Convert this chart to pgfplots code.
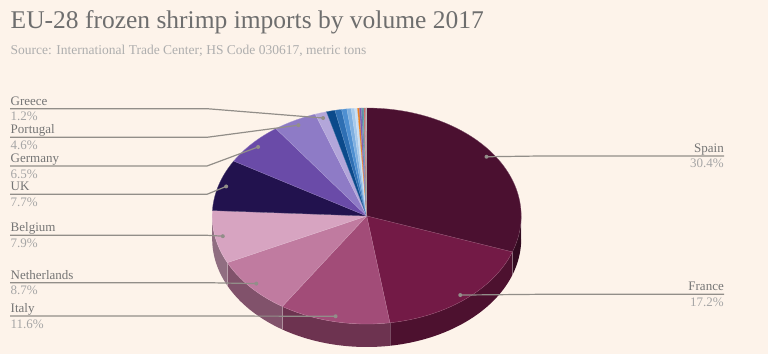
\documentclass[border=0pt]{standalone}
\usepackage{pgfplots}
\pgfplotsset{compat=1.18}
\usepackage{pgfplotstable}
\usepackage{fontspec}
\setmainfont{Liberation Serif}

\definecolor{bg}{HTML}{FDF3EA}
\definecolor{titlegray}{HTML}{6E6E6E}
\definecolor{subgray}{HTML}{AEAEAE}
\definecolor{namegray}{HTML}{757575}
\definecolor{pctgray}{HTML}{A6A6A6}
\definecolor{linegray}{HTML}{928E89}
\definecolor{cSpain}{HTML}{4B1030}
\definecolor{cFrance}{HTML}{731A46}
\definecolor{cItaly}{HTML}{A24C78}
\definecolor{cNeth}{HTML}{C07BA0}
\definecolor{cBel}{HTML}{D7A4C1}
\definecolor{cUK}{HTML}{22124E}
\definecolor{cGer}{HTML}{6A4BA8}
\definecolor{cPor}{HTML}{8E7BC6}
\definecolor{cGre}{HTML}{B3A6DA}
\definecolor{s1}{HTML}{0B4A8B}
\definecolor{s2}{HTML}{2E6FB3}
\definecolor{s3}{HTML}{4E8FD1}
\definecolor{s4}{HTML}{7EAFE0}
\definecolor{s5}{HTML}{A7CAEC}
\definecolor{s6}{HTML}{C9DEF2}
\definecolor{s7}{HTML}{E97E1F}
\definecolor{s8}{HTML}{7B5BB3}
\definecolor{s9}{HTML}{5C7FA8}
\definecolor{s10}{HTML}{48A19E}
\definecolor{s11}{HTML}{C0504D}
\definecolor{s12}{HTML}{D986B0}
\definecolor{s13}{HTML}{8C6A4E}
\definecolor{s14}{HTML}{9E9E9E}

% name, share (%), colour, leader bend x, leader y, side of label
\pgfplotstableread[col sep=comma]{
name,pct,col,lx,ly,side
Spain,30.4,cSpain,540,198,R
France,17.2,cFrance,540,59.7,R
Italy,11.6,cItaly,207,38,L
Netherlands,8.7,cNeth,207,71.3,L
Belgium,7.9,cBel,207,118.7,L
UK,7.7,cUK,207,159.7,L
Germany,6.5,cGer,207,188,L
Portugal,4.6,cPor,207,216.7,L
Greece,1.2,cGre,207,245.3,L
o1,0.9,s1,0,0,N
o2,0.7,s2,0,0,N
o3,0.55,s3,0,0,N
o4,0.45,s4,0,0,N
o5,0.35,s5,0,0,N
o6,0.3,s6,0,0,N
o7,0.2,s7,0,0,N
o8,0.2,s8,0,0,N
o9,0.15,s9,0,0,N
o10,0.12,s10,0,0,N
o11,0.1,s11,0,0,N
o12,0.08,s12,0,0,N
o13,0.06,s13,0,0,N
o14,0.04,s14,0,0,N
}\pie

\newcommand\piecx{366.7}
\newcommand\piecy{138}
\newcommand\pierx{154.5}
\newcommand\piery{108}
\newcommand\pieth{23}

\begin{document}
\begin{tikzpicture}
\begin{axis}[
  x=1pt, y=1pt,
  xmin=0, xmax=768, ymin=0, ymax=354,
  hide axis,
  clip=false,
]
\pgfplotsextra{
  \fill[bg] (axis cs:0,0) rectangle (axis cs:768,354);
  \node[anchor=base west, inner sep=0pt, text=titlegray,
        font=\fontsize{25.5}{30}\selectfont] at (axis cs:10.5,325)
        {EU-28 frozen shrimp imports by volume 2017};
  \node[anchor=base west, inner sep=0pt, text=subgray,
        font=\fontsize{13.5}{16}\selectfont] at (axis cs:10.5,299)
        {Source: International Trade Center; HS Code 030617, metric tons};
  \pgfplotstablegetrowsof{\pie}
  \pgfmathtruncatemacro\last{\pgfplotsretval-1}
  % pass 1: visible outer wall
  \xdef\acc{90}
  \foreach \i in {0,...,\last}{
    \pgfplotstablegetelem{\i}{pct}\of\pie \let\p\pgfplotsretval
    \pgfplotstablegetelem{\i}{col}\of\pie \let\sc\pgfplotsretval
    \pgfmathsetmacro\aS{\acc}
    \pgfmathsetmacro\aE{\acc-3.6*\p}
    \xdef\acc{\aE}
    \pgfmathsetmacro\sa{min(\aS,0)}
    \pgfmathsetmacro\ea{max(\aE,-180)}
    \pgfmathtruncatemacro\vis{\sa>\ea}
    \ifnum\vis=1
      \fill[\sc!67!black] (axis cs:\piecx,\piecy) ++(\sa:\pierx pt and \piery pt)
        arc[start angle=\sa, end angle=\ea, x radius=\pierx pt, y radius=\piery pt]
        -- ++(0,-\pieth pt)
        arc[start angle=\ea, end angle=\sa, x radius=\pierx pt, y radius=\piery pt]
        -- cycle;
      \draw[white, opacity=0.25, line width=0.5pt] (axis cs:\piecx,\piecy) ++(\sa:\pierx pt and \piery pt) -- ++(0,-\pieth pt);
    \fi
  }
  % pass 2: top faces
  \xdef\acc{90}
  \foreach \i in {0,...,\last}{
    \pgfplotstablegetelem{\i}{pct}\of\pie \let\p\pgfplotsretval
    \pgfplotstablegetelem{\i}{col}\of\pie \let\sc\pgfplotsretval
    \pgfmathsetmacro\aS{\acc}
    \pgfmathsetmacro\aE{\acc-3.6*\p}
    \xdef\acc{\aE}
    \filldraw[fill=\sc, draw=\sc!75!white, line width=0.3pt]
      (axis cs:\piecx,\piecy) -- ++(\aS:\pierx pt and \piery pt)
      arc[start angle=\aS, end angle=\aE, x radius=\pierx pt, y radius=\piery pt]
      -- cycle;
  }
  % pass 3: leaders and labels
  \xdef\acc{90}
  \foreach \i in {0,...,\last}{
    \pgfplotstablegetelem{\i}{pct}\of\pie \let\p\pgfplotsretval
    \pgfplotstablegetelem{\i}{name}\of\pie \let\nm\pgfplotsretval
    \pgfplotstablegetelem{\i}{lx}\of\pie \let\lx\pgfplotsretval
    \pgfplotstablegetelem{\i}{ly}\of\pie \let\ly\pgfplotsretval
    \pgfplotstablegetelem{\i}{side}\of\pie \let\sd\pgfplotsretval
    \pgfmathsetmacro\aS{\acc}
    \pgfmathsetmacro\aE{\acc-3.6*\p}
    \xdef\acc{\aE}
    \pgfmathsetmacro\am{(\aS+\aE)/2}
    \pgfmathsetmacro\ny{\ly+3.5}
    \pgfmathsetmacro\py{\ly-12}
    \if\sd L
      \draw[linegray, line width=1.2pt] (axis cs:\piecx,\piecy) ++(\am:0.95*\pierx pt and 0.95*\piery pt)
        -- (axis cs:\lx,\ly) -- (axis cs:10,\ly);
      \fill[linegray] (axis cs:\piecx,\piecy) ++(\am:0.95*\pierx pt and 0.95*\piery pt) circle[radius=2pt];
      \node[anchor=base west, inner sep=0pt, text=namegray, font=\fontsize{13}{15}\selectfont] at (axis cs:10.5,\ny) {\nm};
      \node[anchor=base west, inner sep=0pt, text=pctgray, font=\fontsize{13}{15}\selectfont] at (axis cs:10.5,\py) {\p\%};
    \fi
    \if\sd R
      \draw[linegray, line width=1.2pt] (axis cs:\piecx,\piecy) ++(\am:0.95*\pierx pt and 0.95*\piery pt)
        -- (axis cs:\lx,\ly) -- (axis cs:724,\ly);
      \fill[linegray] (axis cs:\piecx,\piecy) ++(\am:0.95*\pierx pt and 0.95*\piery pt) circle[radius=2pt];
      \node[anchor=base east, inner sep=0pt, text=namegray, font=\fontsize{13}{15}\selectfont] at (axis cs:724,\ny) {\nm};
      \node[anchor=base east, inner sep=0pt, text=pctgray, font=\fontsize{13}{15}\selectfont] at (axis cs:724,\py) {\p\%};
    \fi
  }
}
\end{axis}
\end{tikzpicture}
\end{document}
